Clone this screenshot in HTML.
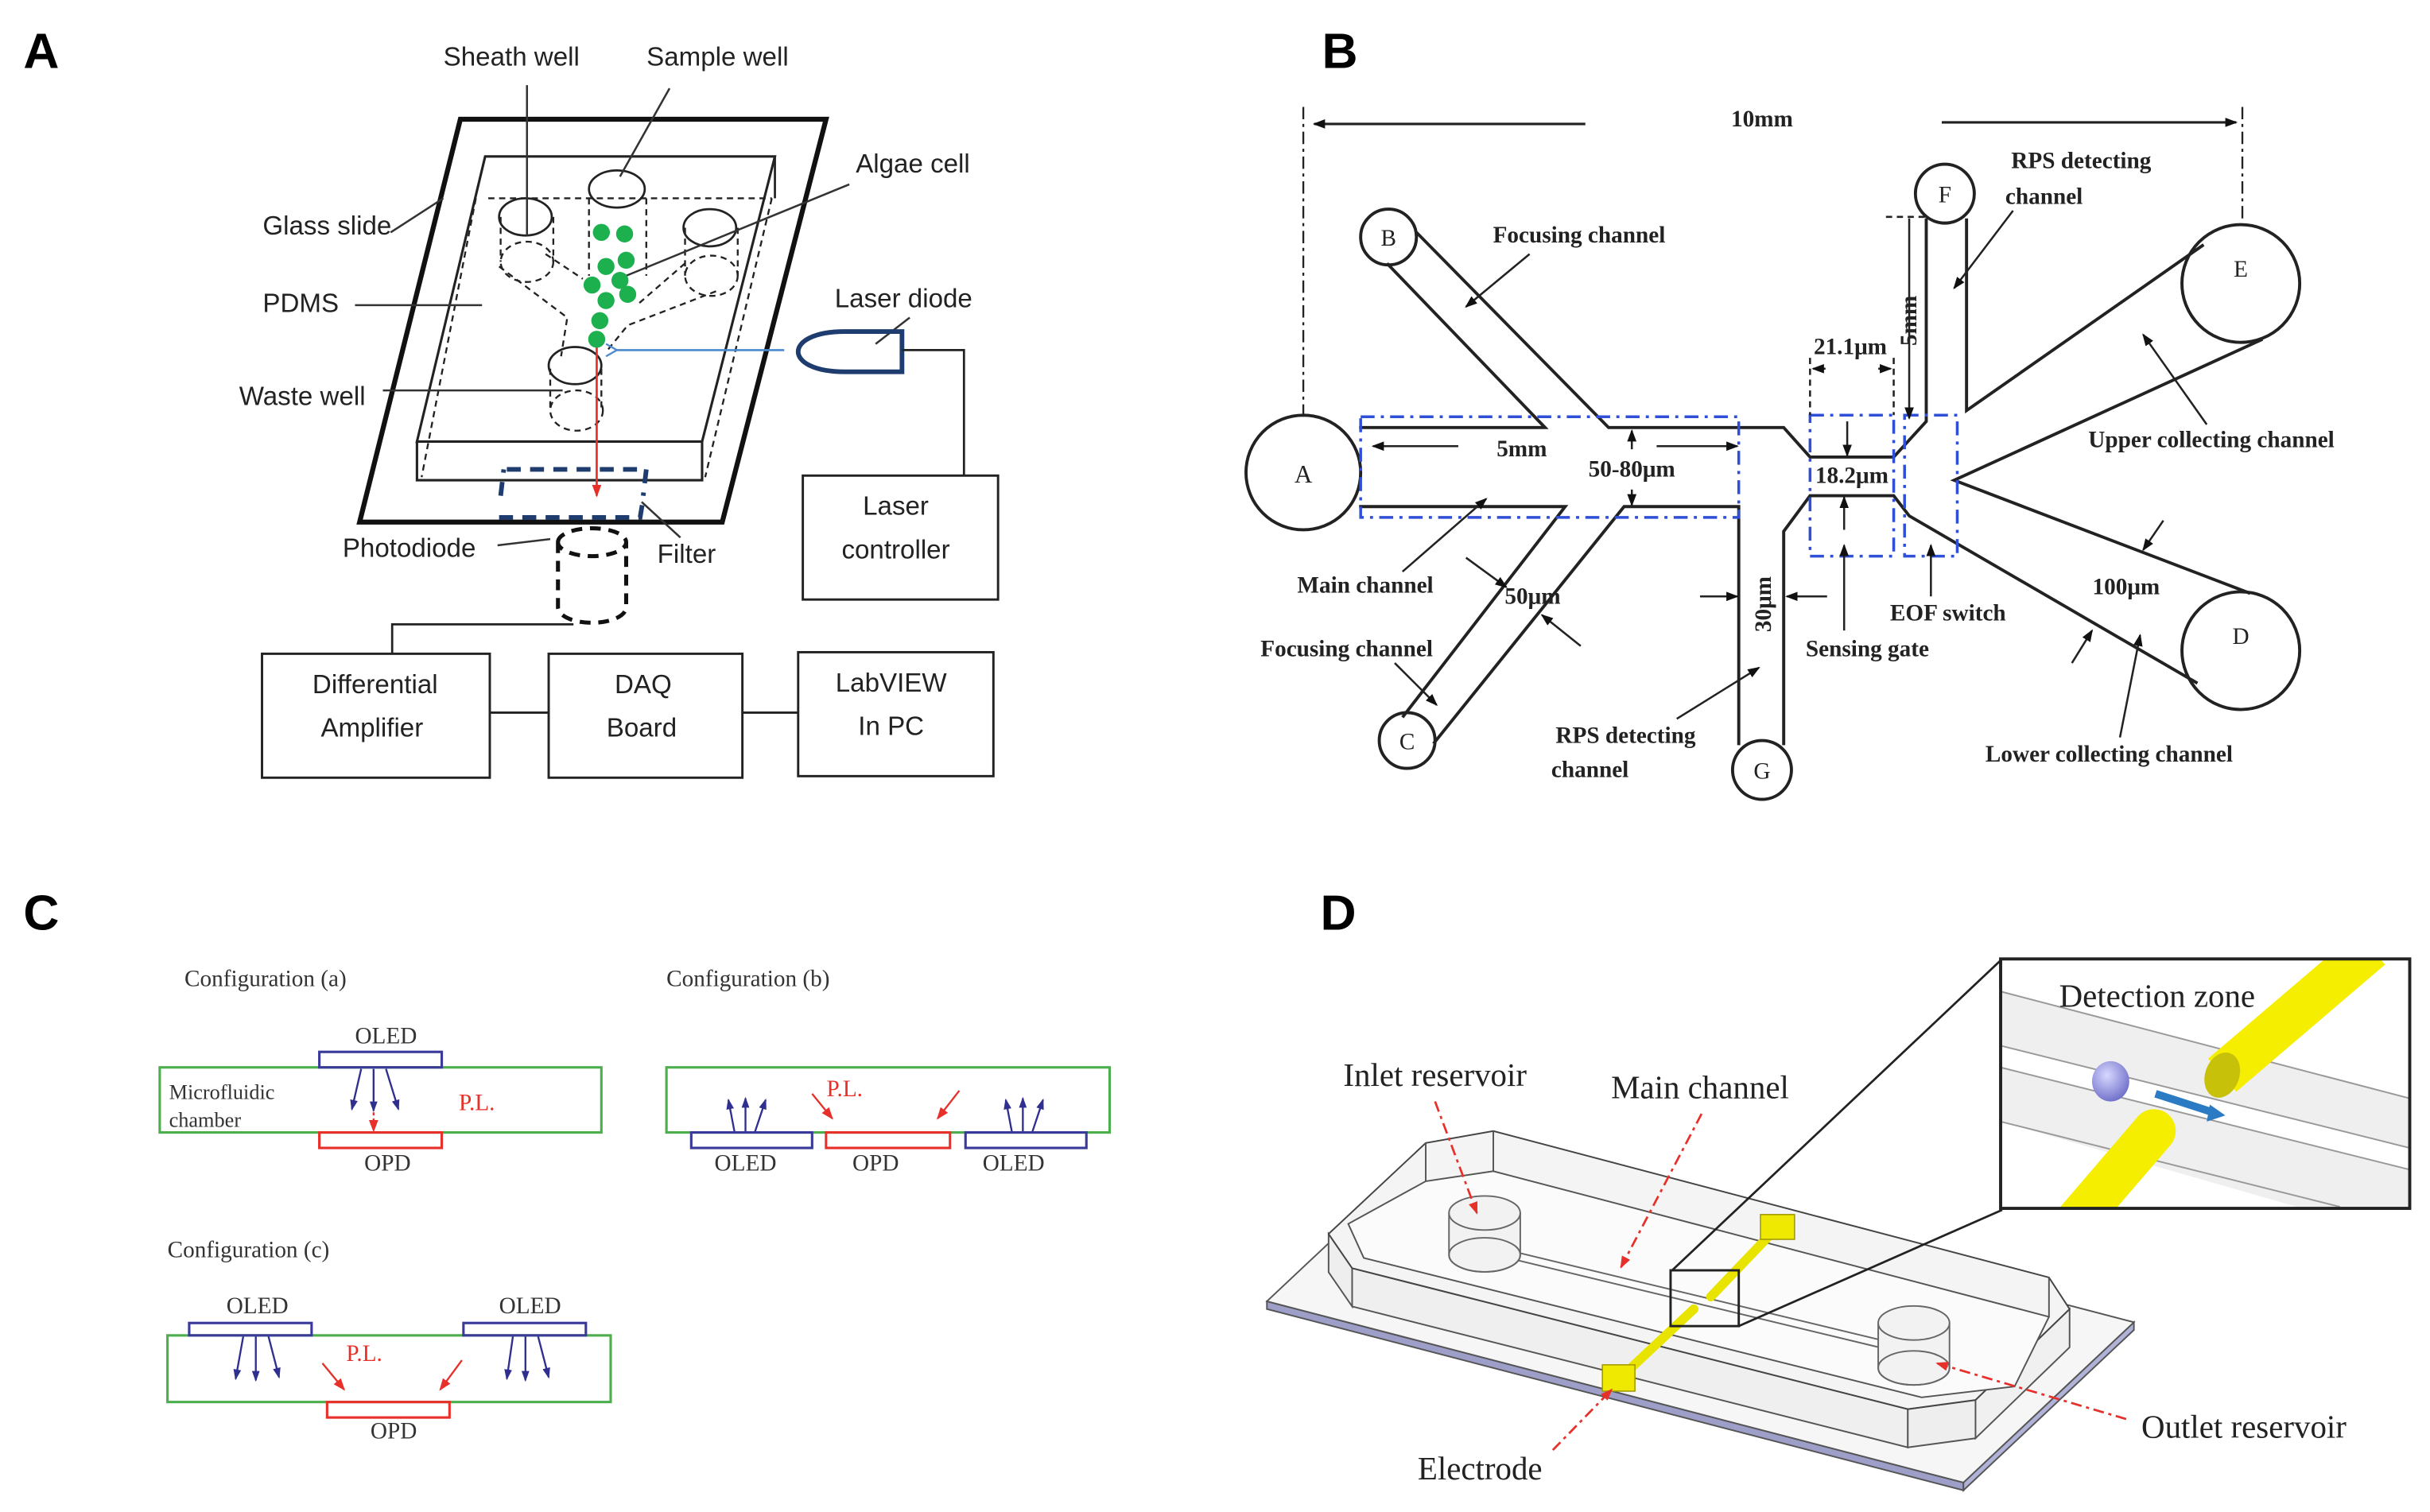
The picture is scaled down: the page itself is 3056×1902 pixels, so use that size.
<!DOCTYPE html>
<html><head><meta charset="utf-8"><style>
html,body{margin:0;padding:0;background:#fff;}
svg{display:block;}
.s{font-family:"Liberation Sans",sans-serif;}
.t{font-family:"Liberation Serif",serif;}
</style></head><body>
<svg width="3056" height="1902" viewBox="0 0 1568 976" xmlns="http://www.w3.org/2000/svg">
<defs>
<marker id="mk" markerWidth="8" markerHeight="8" refX="7" refY="4" orient="auto" markerUnits="userSpaceOnUse"><path d="M0,1 L8,4 L0,7 Z" fill="#111"/></marker>
<marker id="mb" markerWidth="7" markerHeight="7" refX="6" refY="3.5" orient="auto" markerUnits="userSpaceOnUse"><path d="M0,1 L7,3.5 L0,6 Z" fill="#2f2f8f"/></marker>
<marker id="mr" markerWidth="8" markerHeight="8" refX="7" refY="4" orient="auto" markerUnits="userSpaceOnUse"><path d="M0,1 L8,4 L0,7 Z" fill="#e8302a"/></marker>
<marker id="ml" markerWidth="9" markerHeight="9" refX="2" refY="4.5" orient="auto" markerUnits="userSpaceOnUse"><path d="M8,0.5 L1,4.5 L8,8.5" fill="none" stroke="#4a8ad0" stroke-width="1.2"/></marker>
<radialGradient id="sph" cx="0.4" cy="0.35" r="0.7"><stop offset="0" stop-color="#d8d8ff"/><stop offset="1" stop-color="#6c6cc8"/></radialGradient>
</defs>

<g class="s" font-weight="bold" font-size="32" fill="#000">
<text x="15" y="44">A</text><text x="853" y="44">B</text><text x="15" y="600">C</text><text x="852" y="600">D</text>
</g>

<!-- ================= PANEL A ================= -->
<g fill="none" stroke="#222">
<polygon points="297,77 533,77 466,337 232,337" stroke-width="3.2" stroke="#111"/>
<path d="M313,101 L500,101 L453,285 L269,285 Z" stroke-width="1.6"/>
<path d="M269,285 L269,310 L453,310 L453,285" stroke-width="1.6"/>
<path d="M500,101 L500,128" stroke-width="1.4"/>
<g stroke-dasharray="4,3" stroke-width="1.2">
<path d="M315,128 L498,128"/><path d="M307,128 L272,308"/><path d="M498,128 L455,308"/>
<path d="M322,172 L366,205 L362,230"/><path d="M352,164 L376,180"/><path d="M442,170 L412,196"/><path d="M462,188 L405,210 L392,226"/>
<path d="M380,128 L380,178"/><path d="M417,128 L417,178"/>
<path d="M355,238 L355,265"/><path d="M388,238 L388,265"/>
<ellipse cx="340" cy="169" rx="17" ry="13"/><ellipse cx="459" cy="178" rx="17" ry="13"/><ellipse cx="372" cy="265" rx="17" ry="13"/>
<path d="M323,140 L323,169"/><path d="M357,140 L357,169"/><path d="M442,147 L442,178"/><path d="M476,147 L476,178"/>
</g>
<ellipse cx="339" cy="140" rx="17" ry="12" stroke-width="1.4"/>
<ellipse cx="398" cy="122" rx="18" ry="12" stroke-width="1.4"/>
<ellipse cx="458" cy="147" rx="17" ry="12" stroke-width="1.4"/>
<ellipse cx="371" cy="236" rx="17" ry="12" stroke-width="1.4"/>
<g stroke="#333" stroke-width="1.3">
<path d="M340,55 L340,152"/><path d="M432,57 L400,114"/><path d="M548,119 L404,178"/>
<path d="M252,150 L286,128"/><path d="M229,197 L311,197"/><path d="M247,252 L363,252"/>
<path d="M321,352 L355,348"/><path d="M439,347 L414,324"/><path d="M587,205 L565,222"/>
</g>
<path d="M327,303 L417,303 L415,320 M323,320 L325,303 M322,334 L413,334 L415,322" stroke="#1f3c6e" stroke-width="3" stroke-dasharray="9,6"/>
<path d="M360,350 L360,392 A22,10 0 0 0 404,392 L404,350 M360,350 A22,9 0 0 1 404,350 A22,9 0 0 1 360,350" stroke="#111" stroke-width="2.6" stroke-dasharray="7,5"/>
<path d="M582,214 L582,240 L545,240 C505,240 505,214 545,214 Z" stroke="#1f3c6e" stroke-width="3"/>
<path d="M582,226 L622,226 L622,307" stroke-width="1.4"/>
<path d="M370,403 L253,403 L253,422" stroke-width="1.4"/>
<rect x="518" y="307" width="126" height="80" stroke-width="1.5"/>
<rect x="169" y="422" width="147" height="80" stroke-width="1.5"/>
<rect x="354" y="422" width="125" height="80" stroke-width="1.5"/>
<rect x="515" y="421" width="126" height="80" stroke-width="1.5"/>
<path d="M316,460 L354,460 M479,460 L515,460" stroke-width="1.5"/>
<path d="M506,226 L397,226" stroke="#4a8ad0" stroke-width="1.3" marker-end="url(#ml)"/>
<path d="M385,224 L385,320" stroke="#e8302a" stroke-width="1.4" marker-end="url(#mr)"/>
</g>
<g fill="#1db04e">
<circle cx="388" cy="150" r="5.5"/><circle cx="403" cy="151" r="5.5"/><circle cx="391" cy="172" r="5.5"/><circle cx="404" cy="168" r="5.5"/>
<circle cx="382" cy="184" r="5.5"/><circle cx="400" cy="181" r="5.5"/><circle cx="405" cy="190" r="5.5"/><circle cx="391" cy="194" r="5.5"/>
<circle cx="387" cy="207" r="5.5"/><circle cx="385" cy="219" r="5.5"/>
</g>
<g class="s" font-size="17" fill="#222" dominant-baseline="central">
<text x="330" y="37" text-anchor="middle">Sheath well</text>
<text x="463" y="37" text-anchor="middle">Sample well</text>
<text x="589" y="106" text-anchor="middle">Algae cell</text>
<text x="211" y="146" text-anchor="middle">Glass slide</text>
<text x="194" y="196" text-anchor="middle">PDMS</text>
<text x="195" y="256" text-anchor="middle">Waste well</text>
<text x="583" y="193" text-anchor="middle">Laser diode</text>
<text x="264" y="354" text-anchor="middle">Photodiode</text>
<text x="443" y="358" text-anchor="middle">Filter</text>
<text x="578" y="327" text-anchor="middle">Laser</text>
<text x="578" y="355" text-anchor="middle">controller</text>
<text x="242" y="442" text-anchor="middle">Differential</text>
<text x="240" y="470" text-anchor="middle">Amplifier</text>
<text x="415" y="442" text-anchor="middle">DAQ</text>
<text x="414" y="470" text-anchor="middle">Board</text>
<text x="575" y="441" text-anchor="middle">LabVIEW</text>
<text x="575" y="469" text-anchor="middle">In PC</text>
</g>

<!-- ================= PANEL B ================= -->
<g fill="none" stroke="#222" stroke-width="2">
<path d="M841,69 L841,271 M1447,69 L1447,143" stroke-width="1.2" stroke-dasharray="8,3,2,3"/>
<path d="M1023,80 L848,80" marker-end="url(#mk)" stroke-width="1.6"/>
<path d="M1253,79 L1443,79" marker-end="url(#mk)" stroke-width="1.6"/>
<circle cx="841" cy="305" r="37"/><circle cx="896" cy="153" r="18"/><circle cx="908" cy="478" r="18"/>
<circle cx="1137" cy="497" r="19"/><circle cx="1255" cy="125" r="19"/><circle cx="1446" cy="183" r="38"/><circle cx="1446" cy="420" r="38"/>
<path d="M877,276 L997,276 L895,170"/>
<path d="M914,150 L1038,276 L1151,276 L1168,295 L1222,295 L1243,272 L1243,141"/>
<path d="M1269,141 L1269,265 L1422,158"/>
<path d="M1460,219 L1261,310 L1452,383"/>
<path d="M1418,441 L1232,333 L1222,320 L1168,320 L1151,343 L1151,481"/>
<path d="M877,327 L1010,327 L905,463"/>
<path d="M925,480 L1048,327 L1122,327 L1122,481"/>
</g>
<g fill="none" stroke="#2f4fd8" stroke-width="1.8" stroke-dasharray="9,4,2,4">
<rect x="878" y="269" width="244" height="65"/><rect x="1168" y="268" width="54" height="91"/><rect x="1229" y="268" width="34" height="91"/>
</g>
<g fill="none" stroke="#222" stroke-width="1.3">
<path d="M1168,231 L1168,268 M1222,231 L1222,268 M1217,140 L1243,140" stroke-dasharray="4,3"/>
<path d="M1178,238 L1170,238" marker-end="url(#mk)"/><path d="M1212,238 L1220,238" marker-end="url(#mk)"/>
<path d="M1232,141 L1232,270" marker-end="url(#mk)"/>
<path d="M941,288 L886,288" marker-end="url(#mk)"/><path d="M1069,288 L1121,288" marker-end="url(#mk)"/>
<path d="M1053,290 L1053,278" marker-end="url(#mk)"/><path d="M1053,316 L1053,326" marker-end="url(#mk)"/>
<path d="M1192,272 L1192,294" marker-end="url(#mk)"/><path d="M1190,342 L1190,321" marker-end="url(#mk)"/>
<path d="M1190,407 L1190,352" marker-end="url(#mk)"/><path d="M1246,385 L1246,352" marker-end="url(#mk)"/>
<path d="M1097,385 L1121,385" marker-end="url(#mk)"/><path d="M1179,385 L1153,385" marker-end="url(#mk)"/>
<path d="M946,360 L972,379" marker-end="url(#mk)"/><path d="M1020,417 L995,397" marker-end="url(#mk)"/>
<path d="M905,369 L959,322" marker-end="url(#mk)"/><path d="M900,428 L927,455" marker-end="url(#mk)"/>
<path d="M987,164 L946,198" marker-end="url(#mk)"/><path d="M1082,464 L1135,431" marker-end="url(#mk)"/>
<path d="M1299,136 L1261,186" marker-end="url(#mk)"/><path d="M1424,274 L1383,216" marker-end="url(#mk)"/>
<path d="M1396,336 L1383,355" marker-end="url(#mk)"/><path d="M1337,428 L1350,407" marker-end="url(#mk)"/>
<path d="M1368,476 L1381,410" marker-end="url(#mk)"/>
</g>
<g class="t" font-size="15" font-weight="bold" fill="#222" dominant-baseline="central">
<text x="1137" y="77" text-anchor="middle">10mm</text>
<text x="841" y="306" text-anchor="middle" font-weight="normal" font-size="16">A</text>
<text x="896" y="154" text-anchor="middle" font-weight="normal" font-size="15">B</text>
<text x="908" y="479" text-anchor="middle" font-weight="normal" font-size="15">C</text>
<text x="1137" y="498" text-anchor="middle" font-weight="normal" font-size="15">G</text>
<text x="1255" y="126" text-anchor="middle" font-weight="normal" font-size="15">F</text>
<text x="1446" y="174" text-anchor="middle" font-weight="normal" font-size="15">E</text>
<text x="1446" y="411" text-anchor="middle" font-weight="normal" font-size="15">D</text>
<text x="1019" y="152" text-anchor="middle">Focusing channel</text>
<text x="1343" y="104" text-anchor="middle">RPS  detecting</text>
<text x="1319" y="127" text-anchor="middle">channel</text>
<text x="1194" y="224" text-anchor="middle">21.1μm</text>
<text x="1232" y="207" text-anchor="middle" transform="rotate(-90 1232 207)">5mm</text>
<text x="982" y="290" text-anchor="middle">5mm</text>
<text x="1053" y="303" text-anchor="middle">50-80μm</text>
<text x="1195" y="307" text-anchor="middle">18.2μm</text>
<text x="1427" y="284" text-anchor="middle">Upper collecting channel</text>
<text x="881" y="378" text-anchor="middle">Main channel</text>
<text x="989" y="385" text-anchor="middle">50μm</text>
<text x="1138" y="390" text-anchor="middle" transform="rotate(-90 1138 390)">30μm</text>
<text x="1257" y="396" text-anchor="middle">EOF switch</text>
<text x="1372" y="379" text-anchor="middle">100μm</text>
<text x="869" y="419" text-anchor="middle">Focusing channel</text>
<text x="1205" y="419" text-anchor="middle">Sensing gate</text>
<text x="1049" y="475" text-anchor="middle">RPS  detecting</text>
<text x="1026" y="497" text-anchor="middle">channel</text>
<text x="1361" y="487" text-anchor="middle">Lower collecting channel</text>
</g>

<!-- ================= PANEL C ================= -->
<g fill="none" stroke-width="1.6">
<rect x="103" y="689" width="285" height="42" stroke="#4cae4c"/>
<rect x="206" y="679" width="79" height="10" stroke="#3a3a9a"/>
<rect x="206" y="731" width="79" height="10" stroke="#e8302a"/>
<g stroke="#2f2f8f" stroke-width="1.2">
<path d="M233,690 L227,716" marker-end="url(#mb)"/><path d="M241,690 L241,717" marker-end="url(#mb)"/><path d="M249,690 L257,716" marker-end="url(#mb)"/>
<path d="M474,731 L470,710" marker-end="url(#mb)"/><path d="M481,731 L481,709" marker-end="url(#mb)"/><path d="M487,731 L494,710" marker-end="url(#mb)"/>
<path d="M653,731 L649,710" marker-end="url(#mb)"/><path d="M660,731 L660,709" marker-end="url(#mb)"/><path d="M666,731 L673,710" marker-end="url(#mb)"/>
<path d="M157,862 L152,890" marker-end="url(#mb)"/><path d="M165,862 L165,891" marker-end="url(#mb)"/><path d="M173,862 L180,889" marker-end="url(#mb)"/>
<path d="M331,862 L327,890" marker-end="url(#mb)"/><path d="M339,862 L339,891" marker-end="url(#mb)"/><path d="M347,862 L354,889" marker-end="url(#mb)"/>
</g>
<g stroke="#e8302a" stroke-width="1.2">
<path d="M241,718 L241,730" stroke-dasharray="2,2" marker-end="url(#mr)"/>
<path d="M524,706 L537,722" marker-end="url(#mr)"/><path d="M619,704 L605,722" marker-end="url(#mr)"/>
<path d="M208,880 L222,897" marker-end="url(#mr)"/><path d="M298,878 L284,897" marker-end="url(#mr)"/>
</g>
<rect x="430" y="689" width="286" height="42" stroke="#4cae4c"/>
<rect x="446" y="731" width="78" height="10" stroke="#3a3a9a"/>
<rect x="533" y="731" width="80" height="10" stroke="#e8302a"/>
<rect x="623" y="731" width="78" height="10" stroke="#3a3a9a"/>
<rect x="108" y="862" width="286" height="43" stroke="#4cae4c"/>
<rect x="122" y="854" width="79" height="8" stroke="#3a3a9a"/>
<rect x="299" y="854" width="79" height="8" stroke="#3a3a9a"/>
<rect x="211" y="905" width="79" height="10" stroke="#e8302a"/>
</g>
<g class="t" font-size="15" fill="#333" dominant-baseline="central">
<text x="119" y="632">Configuration (a)</text>
<text x="430" y="632">Configuration (b)</text>
<text x="108" y="807">Configuration (c)</text>
<text x="249" y="669" text-anchor="middle">OLED</text>
<text x="250" y="751" text-anchor="middle">OPD</text>
<text x="109" y="705" font-size="13.5">Microfluidic</text>
<text x="109" y="723" font-size="13.5">chamber</text>
<text x="296" y="712" fill="#e8302a">P.L.</text>
<text x="481" y="751" text-anchor="middle">OLED</text>
<text x="565" y="751" text-anchor="middle">OPD</text>
<text x="654" y="751" text-anchor="middle">OLED</text>
<text x="545" y="703" text-anchor="middle" fill="#e8302a">P.L.</text>
<text x="166" y="843" text-anchor="middle">OLED</text>
<text x="342" y="843" text-anchor="middle">OLED</text>
<text x="254" y="924" text-anchor="middle">OPD</text>
<text x="235" y="874" text-anchor="middle" fill="#e8302a">P.L.</text>
</g>

<!-- ================= PANEL D ================= -->
<g stroke="#555" stroke-width="1">
<polygon points="817.5,840 1267,957 1267,962 817.5,845" fill="#9d9fc8"/>
<polygon points="1267,957 1377,853.5 1377,858.5 1267,962" fill="#b0b2d8"/>
<polygon points="817.5,840 927.5,736.5 1377,853.5 1267,957" fill="#f6f6f6"/>
<polygon points="857.3,796.5 872.5,818.6 872.5,843.3 857.3,821.2" fill="#eee"/>
<polygon points="872.5,818.6 1231.1,909.6 1231.1,934.3 872.5,843.3" fill="#efefef"/>
<polygon points="1231.1,909.6 1274.8,903.7 1274.8,928.4 1231.1,934.3" fill="#eee"/>
<polygon points="1274.8,903.7 1335.5,845 1335.5,869.7 1274.8,928.4" fill="#f0f0f0"/>
<polygon points="920,737.8 963.6,730.1 1322.2,824.6 1335.5,845 1274.8,903.7 1231.1,909.6 872.5,818.6 857.3,796.5" fill="#f4f4f4" stroke="#444"/>
<polygon points="920,762.5 963.6,756 1322.2,850 1300,895 1240,902 880,812 870,790" fill="#fbfbfb" stroke="#555"/>
<path d="M920,737.8 L920,762.5 M963.6,730.1 L963.6,756 M1322.2,824.6 L1322.2,850" fill="none"/>
<path d="M973,807 L1218,866 M973,812 L1218,871" stroke="#666" fill="none"/>
<g fill="#f2f2f2" stroke="#666">
<path d="M935,783 L935,810 A23,11 0 0 0 981,810 L981,783"/>
<ellipse cx="958" cy="810" rx="23" ry="11" fill="none"/>
<ellipse cx="958" cy="783" rx="23" ry="11"/>
<path d="M1212,854 L1212,883 A23,11 0 0 0 1258,883 L1258,854"/>
<ellipse cx="1235" cy="883" rx="23" ry="11" fill="none"/>
<ellipse cx="1235" cy="854" rx="23" ry="11"/>
</g>
</g>
<g stroke="#a09a00" stroke-width="0.8">
<path d="M1147,792 L1104,837" stroke="#e8e400" stroke-width="6" stroke-linecap="round"/>
<path d="M1093,845 L1045,890" stroke="#e8e400" stroke-width="6" stroke-linecap="round"/>
<rect x="1136" y="784" width="22" height="16" fill="#efe800"/>
<rect x="1034" y="881" width="21" height="17" fill="#efe800"/>
</g>
<rect x="1078" y="820" width="44" height="36" fill="none" stroke="#222" stroke-width="1.5"/>
<path d="M1079,820 L1292,619 M1122,856 L1292,781" stroke="#222" stroke-width="1.4" fill="none"/>
<g>
<rect x="1291" y="619" width="264" height="161" fill="#fff"/>
<clipPath id="ic"><rect x="1291" y="619" width="264" height="161"/></clipPath>
<g clip-path="url(#ic)">
<polygon points="1291,640 1555,709 1555,741 1291,675" fill="#efefef"/>
<polygon points="1291,689 1555,755 1555,800 1291,724" fill="#efefef"/>
<g stroke="#999" stroke-width="1">
<path d="M1291,640 L1555,709 M1291,675 L1555,741 M1291,689 L1555,755 M1291,724 L1510,779"/>
</g>
<path d="M1434,694 L1530,612" stroke="#f5ee00" stroke-width="28"/>
<ellipse cx="1434" cy="694" rx="11" ry="15" fill="#c8c10a" transform="rotate(20 1434 694)"/>
<path d="M1390,730 L1330,800" stroke="#f5ee00" stroke-width="28" stroke-linecap="round"/>
<ellipse cx="1362" cy="698" rx="12" ry="13" fill="url(#sph)"/>
<path d="M1391,706 L1428,718" stroke="#2b7bc4" stroke-width="5"/>
<path d="M1426,713 L1436,720 L1424,724 Z" fill="#2b7bc4"/>
</g>
<rect x="1291" y="619" width="264" height="161" fill="none" stroke="#222" stroke-width="2"/>
</g>
<g stroke="#e8302a" stroke-width="1.4" fill="none" stroke-dasharray="7,3,2,3">
<path d="M926,711 L953,783" marker-end="url(#mr)"/>
<path d="M1098,719 L1046,818" marker-end="url(#mr)"/>
<path d="M1002,936 L1040,897" marker-end="url(#mr)"/>
<path d="M1372,916 L1250,880" marker-end="url(#mr)"/>
</g>
<g class="t" font-size="21" fill="#222" dominant-baseline="central">
<text x="926" y="694" text-anchor="middle">Inlet reservoir</text>
<text x="1097" y="702" text-anchor="middle">Main channel</text>
<text x="955" y="948" text-anchor="middle">Electrode</text>
<text x="1448" y="921" text-anchor="middle">Outlet reservoir</text>
<text x="1392" y="643" text-anchor="middle">Detection zone</text>
</g>
</svg>
</body></html>
